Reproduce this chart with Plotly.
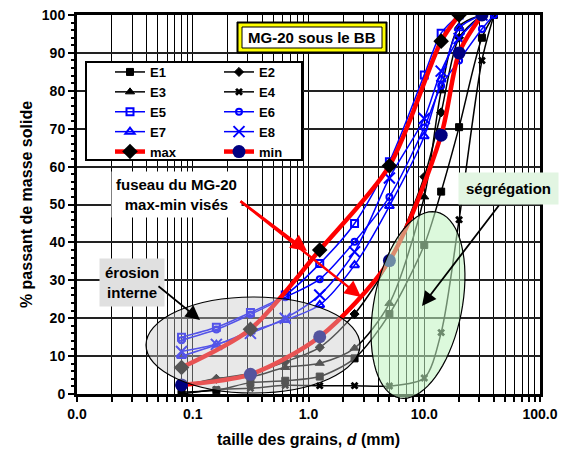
import numpy as np
import plotly.graph_objects as go

# ---------------- data ----------------
sizes = [0.08, 0.16, 0.315, 0.63, 1.25, 2.5, 5, 10, 14, 20, 31.5, 40]

E1 = [0.5, 1.0, 3.0, 3.5, 4.6, 9.4, 21.1, 39.3, 53.4, 70.4, 94.0, 100]
E2 = [2.0, 4.0, 5.5, 8.5, 12.3, 21.1, 35.0, 57.3, 74.3, 94.0, 100, None]
E3 = [2.0, 4.1, 4.5, 7.0, 8.1, 12.1, 23.9, 52.0, 80.0, 97.0, 100, None]
E4 = [0.0, 1.2, 1.5, 2.3, 2.2, 2.2, 2.1, 4.2, 16.2, 46.0, 88.0, 100]
E5 = [15.0, 17.6, 21.5, 26.1, 34.4, 45.0, 61.3, 84.2, 95.2, 100, None, None]
E6 = [14.2, 17.0, 21.0, 25.5, 30.3, 40.2, 52.0, 70.3, 81.3, 88.0, 96.3, 100]
E7 = [10.0, 13.0, 16.5, 19.5, 23.5, 34.0, 49.6, 68.0, 83.0, 96.5, 100, None]
E8 = [11.2, 13.1, 16.0, 20.0, 26.1, 37.5, 57.0, 72.7, 85.2, 93.8, 100, None]

max_x = [0.08, 0.315, 1.25, 5, 14, 20]
max_y = [7.0, 17.1, 38.0, 60.2, 93.1, 100]
min_x = [0.08, 0.315, 1.25, 5, 14, 20, 31.5]
min_y = [2.4, 5.2, 15.1, 35.2, 68.3, 90.0, 100]

x_tick_vals = [0.01, 0.1, 1, 10, 100]
x_tick_text = ["0.0", "0.1", "1.0", "10.0", "100.0"]
y_tick_vals = list(range(0, 101, 10))

# ---------------- geometry helpers (window pixels -> paper) ----------------
WIN_W, WIN_H = 569, 451
OFF = 8                      # default page body margin
W, H = WIN_W - OFF, WIN_H - OFF
L, R, T, B = 77, 540, 15, 394   # plot area in window pixels


def px(x):
    return (x - L) / (R - L)


def py(y):
    return (B - y) / (B - T)


FONT = "Arial, Liberation Sans, sans-serif"

fig = go.Figure()

black_series = [
    ("E1", E1, "square", 7, "legend"),
    ("E2", E2, "diamond", 7, "legend2"),
    ("E3", E3, "triangle-up", 8, "legend"),
    ("E4", E4, "x", 7, "legend2"),
]
blue_series = [
    ("E5", E5, "square-open", 7, "legend"),
    ("E6", E6, "circle-open", 6, "legend2"),
    ("E7", E7, "triangle-up-open", 8, "legend"),
    ("E8", E8, "x-thin-open", 11, "legend2"),
]
rank = {"E1": 1, "E3": 2, "E5": 3, "E7": 4, "max": 5,
        "E2": 1, "E4": 2, "E6": 3, "E8": 4, "min": 5}

for name, vals, sym, sz, leg in black_series:
    fig.add_trace(go.Scatter(
        x=sizes, y=vals, name=name, mode="lines+markers", legend=leg,
        legendrank=rank[name], connectgaps=False,
        line=dict(color="black", width=1.5, shape="spline", smoothing=0.8),
        marker=dict(symbol=sym, size=sz, color="black",
                    line=dict(color="black", width=1 if sym != "x" else 0)),
    ))

for name, vals, sym, sz, leg in blue_series:
    fig.add_trace(go.Scatter(
        x=sizes, y=vals, name=name, mode="lines+markers", legend=leg,
        legendrank=rank[name],
        line=dict(color="#0000FF", width=1.5, shape="spline", smoothing=0.8),
        marker=dict(symbol=sym, size=sz, color="#0000FF",
                    line=dict(color="#0000FF", width=2)),
    ))

fig.add_trace(go.Scatter(
    x=max_x, y=max_y, name="max", mode="lines+markers", legend="legend",
    legendrank=rank["max"],
    line=dict(color="#FF0000", width=4.5, shape="spline", smoothing=0.8),
    marker=dict(symbol="diamond", size=12, color="black"),
))
fig.add_trace(go.Scatter(
    x=min_x, y=min_y, name="min", mode="lines+markers", legend="legend2",
    legendrank=rank["min"],
    line=dict(color="#FF0000", width=4.5, shape="spline", smoothing=0.8),
    marker=dict(symbol="circle", size=13, color="#000080"),
))

# ---------------- shapes ----------------
shapes = []
# gray ellipse (érosion interne)
shapes.append(dict(type="circle", xref="paper", yref="paper",
                   x0=px(146), x1=px(360), y0=py(393), y1=py(297),
                   fillcolor="rgba(200,200,200,0.42)",
                   line=dict(color="black", width=1.2), layer="above"))
# green rotated ellipse (ségrégation)
cx, cy = 418, 305
top = np.array([437.0, 212.0]); bot = np.array([400.0, 398.0])
u = (top - bot) / np.linalg.norm(top - bot)
v = np.array([-u[1], u[0]])
a, b = np.linalg.norm(top - bot) / 2, 44
t = np.linspace(0, 2 * np.pi, 73)
pts = [(cx + a * np.cos(tt) * u[0] + b * np.sin(tt) * v[0],
        cy + a * np.cos(tt) * u[1] + b * np.sin(tt) * v[1]) for tt in t]
path = "M " + " L ".join(f"{px(x):.5f},{py(y):.5f}" for x, y in pts) + " Z"
shapes.append(dict(type="path", xref="paper", yref="paper", path=path,
                   fillcolor="rgba(193,245,193,0.57)",
                   line=dict(color="black", width=1.2), layer="above"))
# legend box
shapes.append(dict(type="rect", xref="paper", yref="paper",
                   x0=px(86), x1=px(302), y0=py(160), y1=py(62),
                   fillcolor="white", line=dict(color="black", width=2),
                   layer="above"))
# title box: black outer, yellow frame, inner black
shapes.append(dict(type="rect", xref="paper", yref="paper",
                   x0=px(237), x1=px(387), y0=py(53), y1=py(22),
                   fillcolor="black", line=dict(color="black", width=1),
                   layer="above"))
shapes.append(dict(type="rect", xref="paper", yref="paper",
                   x0=px(238.5), x1=px(385.5), y0=py(51.5), y1=py(23.5),
                   fillcolor="#FFFF00", line=dict(width=0),
                   layer="above"))
shapes.append(dict(type="rect", xref="paper", yref="paper",
                   x0=px(242), x1=px(382), y0=py(48), y1=py(27),
                   fillcolor="white", line=dict(color="black", width=1),
                   layer="above"))

# ---------------- annotations ----------------
ann = []
bold = dict(family=FONT, size=15, color="black", weight="bold")


def label(x, y, text, **kw):
    d = dict(xref="paper", yref="paper", x=px(x), y=py(y), text=text,
             showarrow=False, font=bold, xanchor="center", yanchor="middle")
    d.update(kw)
    return d


ann.append(label(312, 37.5, "MG-20 sous le BB"))
ann.append(label(176, 194, "fuseau du MG-20<br>max-min visés",
                 bgcolor="white", borderpad=4))
ann.append(label(131.5, 282.5, "érosion<br>interne",
                 bgcolor="#E0E0E0", borderpad=5))
ann.append(label(508, 188, "ségrégation", bgcolor="#E2F5E2", borderpad=7))


def arrow(tail, head, color, width, size):
    return dict(xref="paper", yref="paper", x=px(head[0]), y=py(head[1]),
                axref="pixel", ayref="pixel",
                ax=tail[0] - head[0], ay=tail[1] - head[1],
                text="", showarrow=True, arrowhead=2, arrowsize=size,
                arrowwidth=width, arrowcolor=color, standoff=0)


ann.append(arrow((239, 200), (307, 251), "#FF0000", 2.5, 1.3))
ann.append(arrow((239, 200), (361, 297), "#FF0000", 2.5, 1.3))
ann.append(arrow((157, 285), (200, 320), "black", 1.8, 1.6))
ann.append(arrow((500, 204), (422, 306), "black", 1.8, 1.6))

# x tick positions: every 1..9 x decade
x_minor = [m * 10.0 ** e for e in range(-2, 2) for m in range(1, 10)] + [100]
x_text = [x_tick_text[x_tick_vals.index(v)] if v in x_tick_vals else ""
          for v in x_minor]

tickfont = dict(family=FONT, size=14, color="black", weight="bold")
titlefont = dict(family=FONT, size=16, color="black", weight="bold")
legfont = dict(family=FONT, size=13, color="black", weight="bold")

fig.update_layout(
    width=W, height=H,
    margin=dict(l=L - OFF, r=WIN_W - R, t=T - OFF, b=WIN_H - B,
                autoexpand=False),
    paper_bgcolor="white", plot_bgcolor="white",
    shapes=shapes, annotations=ann,
    showlegend=True,
    legend=dict(x=px(110), y=py(57), xanchor="left", yanchor="top",
                bgcolor="rgba(0,0,0,0)", borderwidth=0, font=legfont,
                tracegroupgap=0, itemclick=False),
    legend2=dict(x=px(219), y=py(57), xanchor="left", yanchor="top",
                 bgcolor="rgba(0,0,0,0)", borderwidth=0, font=legfont,
                 tracegroupgap=0, itemclick=False),
    xaxis=dict(type="log", range=[-2, 2], tickvals=x_minor, ticktext=x_text,
               automargin=False, ticklabeloverflow="allow",
               ticks="outside", ticklen=5, tickwidth=1.5, tickcolor="black",
               showgrid=True, gridcolor="black", gridwidth=1,
               showline=True, linecolor="black", linewidth=3, mirror=True,
               zeroline=False, tickfont=tickfont,
               title=dict(text="taille des grains, <i>d</i> (mm)",
                          font=titlefont, standoff=14)),
    yaxis=dict(range=[0, 100], tickvals=y_tick_vals, automargin=False,
               ticklabeloverflow="allow",
               ticks="outside", ticklen=6, tickwidth=2, tickcolor="black",
               minor=dict(dtick=2, ticks="outside", ticklen=3,
                          tickcolor="black", tickwidth=1.5, showgrid=False),
               showgrid=True, gridcolor="#222222", gridwidth=1.5,
               showline=True, linecolor="black", linewidth=3, mirror=True,
               zeroline=False, tickfont=tickfont,
               title=dict(text="% passant de masse solide",
                          font=titlefont, standoff=6)),
)

fig.write_html("out.html")
